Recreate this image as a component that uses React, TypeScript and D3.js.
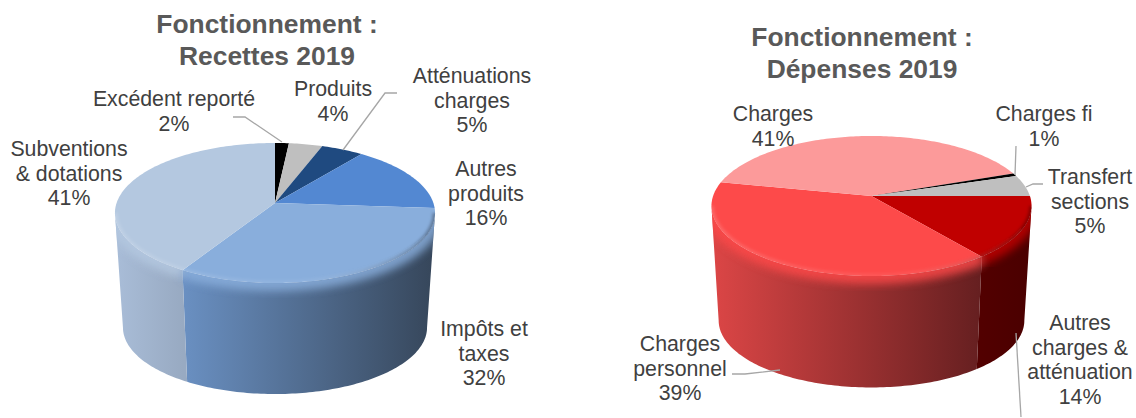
import React from 'react';
import * as d3 from 'd3';

const width = 1136;
const height = 418;

const recettesNames = [['Excédent reporté'], ['Produits'], ['Atténuations', 'charges'], ['Autres', 'produits'], ['Impôts et', 'taxes'], ['Subventions', '& dotations']];
const recettesValues = [1.6, 3.9, 4.9, 15.7, 32.4, 41.4];
const recettesPercents = [2, 4, 5, 16, 32, 41];
const recettesTop = ['#000000', '#bfbfbf', '#1f4a80', '#5388d2', '#89aedc', '#b4c8e0'];
const recettesSide = [['#000000', '#000000'], ['#999999', '#999999'], ['#1a3050', '#1a3050'], ['#37506f', '#37506f'], ['#6a90c2', '#36465a'], ['#a9bdd8', '#98aac2']];

const depensesNames = [['Autres', 'charges &', 'atténuation'], ['Charges', 'personnel'], ['Charges'], ['Charges fi'], ['Transfert', 'sections']];
const depensesValues = [14.4, 38.9, 41.1, 0.7, 4.9];
const depensesPercents = [14, 39, 41, 1, 5];
const depensesTop = ['#c00000', '#fd4a4a', '#fc9a9a', '#000000', '#bfbfbf'];
const depensesSide = [['#520000', '#4a0000'], ['#dc4646', '#651f20'], ['#c06060', '#c06060'], ['#000000', '#000000'], ['#999999', '#999999']];

const recettesLayout = {
  id: 'rec', cx: 275, cy: 203, baseCy: 318, baseScale: 0.95, startAngle: 0,
  title: ['Fonctionnement :', 'Recettes 2019'], titleX: 267, titleY: 33,
  labels: [[174, 106], [333, 96], [472, 83], [486, 176], [484, 336], [69, 156]],
  leaders: [
    [[233, 117], [245, 117], [282, 142]],
    [[397, 93], [385, 93], [343, 150]],
  ],
};

const depensesLayout = {
  id: 'dep', cx: 871.5, cy: 196, baseCy: 311, baseScale: 0.955, startAngle: Math.PI / 2,
  title: ['Fonctionnement :', 'Dépenses 2019'], titleX: 862, titleY: 46,
  labels: [[1080, 330], [680, 351], [773, 121], [1044, 121], [1090, 184]],
  leaders: [
    [[1016, 146], [1015, 175]],
    [[1043, 184], [1033, 184], [1026, 187]],
    [[1016, 333], [1021, 417]],
    [[732, 374], [745, 374], [780, 370]],
  ],
};

// perspective of the disc, near edge is bigger than the far one
const persp = 1 / 7;
const rx = 158.4;
const ry = 68.6;
const wallFrom = (98.2 * Math.PI) / 180;
const wallTo = (261.8 * Math.PI) / 180;

const project = (a: number, cx: number, cy: number, k = 1): [number, number] => {
  const near = -Math.cos(a);
  const s = k / (1 - persp * near);
  return [cx + rx * Math.sin(a) * s, cy + ry * near * s];
};

const sample = (a0: number, a1: number) => {
  const n = Math.max(2, Math.ceil(Math.abs(a1 - a0) / 0.02));
  return d3.range(n + 1).map(i => a0 + ((a1 - a0) * i) / n);
};

const line = d3.line();

const Pie3D = ({ layout, names, values, percents, top, side }: any) => {
  const { id, cx, cy, baseCy, baseScale, startAngle } = layout;
  const arcs = d3.pie<number>().sort(null).startAngle(startAngle).endAngle(startAngle + 2 * Math.PI)(values);

  const visible = (a: any) => {
    // walls only exist on the front half, angles can run past a full turn
    const a0 = Math.max(a.startAngle, wallFrom);
    const a1 = Math.min(a.endAngle, wallTo);
    return a1 > a0 ? sample(a0, a1) : null;
  };

  const wallPath = (steps: number[]) =>
    line([
      ...steps.map(a => project(a, cx, cy)),
      ...steps.slice().reverse().map(a => project(a, cx, baseCy, baseScale)),
    ]) + 'Z';

  const all = sample(wallFrom, wallTo);
  const left = cx - 160;
  const right = cx + 160;

  return (
    <g>
      <defs>
        <clipPath id={`${id}-wall`}>
          <path d={wallPath(all)} />
        </clipPath>
        <clipPath id={`${id}-top`}>
          <path d={line(sample(0, 2 * Math.PI).map(a => project(a, cx, cy))) + 'Z'} />
        </clipPath>
        <linearGradient id={`${id}-rim`} gradientUnits="userSpaceOnUse" x1={left} x2={right} y1={0} y2={0}>
          <stop offset="0" stopColor="#fff" stopOpacity={0.15} />
          <stop offset="0.6" stopColor="#fff" stopOpacity={0.06} />
          <stop offset="1" stopColor="#000" stopOpacity={0.3} />
        </linearGradient>
        {arcs.map((a, i) => {
          const steps = visible(a);
          if (!steps) return null;
          const x0 = project(steps[0], cx, cy)[0];
          const x1 = project(steps[steps.length - 1], cx, cy)[0];
          return (
            <linearGradient key={i} id={`${id}-side-${i}`} gradientUnits="userSpaceOnUse" x1={Math.max(x0, x1)} x2={Math.min(x0, x1)} y1={0} y2={0}>
              <stop offset="0" stopColor={side[i][1]} />
              <stop offset="1" stopColor={side[i][0]} />
            </linearGradient>
          );
        })}
      </defs>

      {arcs.map((a, i) => {
        const steps = visible(a);
        return steps ? <path key={i} d={wallPath(steps)} fill={`url(#${id}-side-${i})`} /> : null;
      })}

      {/* bevel, the top colour bleeding over the wall */}
      <g clipPath={`url(#${id}-wall)`}>
        {arcs.map((a, i) => {
          const steps = visible(a);
          if (!steps) return null;
          return (
            <path
              key={i}
              d={line(steps.map(t => project(t, cx, cy))) as string}
              fill="none"
              stroke={top[i]}
              strokeWidth={16}
              opacity={0.85}
              filter="url(#bevel)"
            />
          );
        })}
      </g>

      {arcs.map((a, i) => (
        <path
          key={i}
          d={line([[cx, cy], ...sample(a.startAngle, a.endAngle).map(t => project(t, cx, cy))]) + 'Z'}
          fill={top[i]}
        />
      ))}

      <g clipPath={`url(#${id}-top)`}>
        <path
          d={line(all.map(t => project(t, cx, cy))) as string}
          fill="none"
          stroke={`url(#${id}-rim)`}
          strokeWidth={5}
          filter="url(#rimBlur)"
        />
      </g>

      {layout.leaders.map((pts: [number, number][], i: number) => (
        <path key={i} d={line(pts) as string} fill="none" stroke="#a6a6a6" strokeWidth={1.3} />
      ))}

      <text textAnchor="middle" fontSize={26.4} fontWeight="bold" fill="#595959">
        {layout.title.map((t: string, i: number) => (
          <tspan key={i} x={layout.titleX} y={layout.titleY + i * 32}>{t}</tspan>
        ))}
      </text>

      {names.map((lines: string[], i: number) => (
        <text key={i} textAnchor="middle" fontSize={21.3} fill="#404040">
          {[...lines, `${percents[i]}%`].map((t, j) => (
            <tspan key={j} x={layout.labels[i][0]} y={layout.labels[i][1] + j * 24.7}>{t}</tspan>
          ))}
        </text>
      ))}
    </g>
  );
};

export default function App() {
  return (
    <svg
      width={width}
      height={height}
      style={{ position: 'absolute', left: 0, top: 0, fontFamily: '"Liberation Sans", Arial, sans-serif' }}
    >
      <defs>
        <filter id="bevel" x="-20%" y="-20%" width="140%" height="140%">
          <feGaussianBlur stdDeviation={4} />
        </filter>
        <filter id="rimBlur" x="-20%" y="-20%" width="140%" height="140%">
          <feGaussianBlur stdDeviation={1.5} />
        </filter>
      </defs>
      <Pie3D layout={recettesLayout} names={recettesNames} values={recettesValues} percents={recettesPercents} top={recettesTop} side={recettesSide} />
      <Pie3D layout={depensesLayout} names={depensesNames} values={depensesValues} percents={depensesPercents} top={depensesTop} side={depensesSide} />
    </svg>
  );
}
